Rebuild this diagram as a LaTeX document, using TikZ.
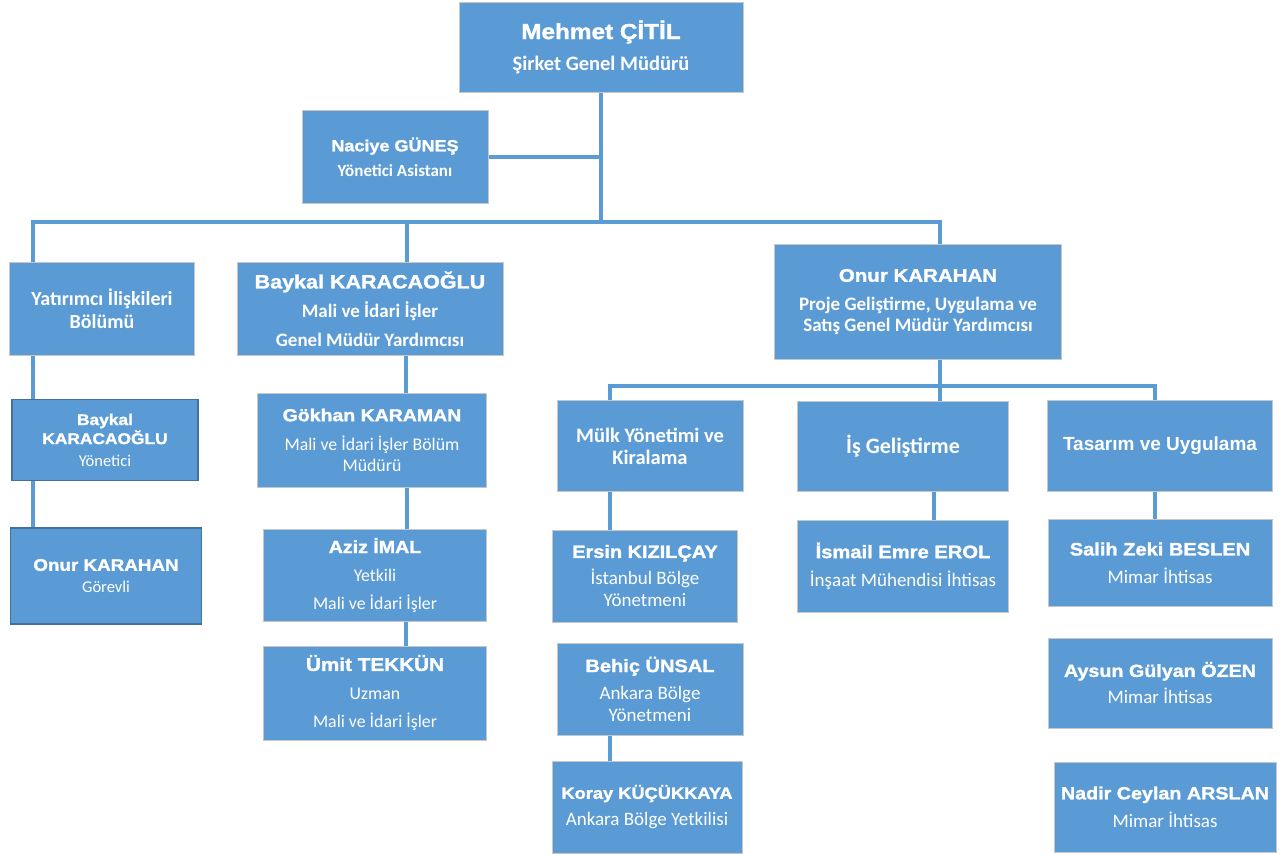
\documentclass[tikz,border=0pt]{standalone}
\usepackage{fontspec}
\setmainfont{Carlito}
\newfontfamily\namefont{Liberation Sans}[FakeStretch=1.12,FakeBold=1.5]
\newfontfamily\deptfont{Liberation Sans}
\usetikzlibrary{positioning}
\definecolor{boxblue}{HTML}{5B9BD5}
\definecolor{edgeblue}{HTML}{41719C}
\definecolor{linkblue}{HTML}{5B9BD5}
\newcommand{\unitfont}{\fontsize{17}{22}\selectfont\lineskiplimit=-50pt\relax}
\newcommand{\pname}[2]{{\namefont\bfseries\fontsize{#1}{22}\selectfont #2}}
\newcommand{\ptitle}[2]{{\bfseries\fontsize{#1}{22}\selectfont #2}}
\newcommand{\pline}[2]{{\fontsize{#1}{22}\selectfont #2}}

\begin{document}
\begin{tikzpicture}[x=1pt,y=-1pt]
\tikzstyle{unit}=[rectangle, inner sep=0pt, fill=boxblue, draw=black!22, line width=1pt, text=white, align=center, font=\unitfont]
\tikzstyle{unit2}=[unit, draw=edgeblue, line width=1.5pt]
\tikzstyle{link}=[draw=linkblue, line width=4pt]

\fill[white] (0,0) rectangle (1284,854);
\useasboundingbox (0,0) rectangle (1284,854);

% top
	\node[unit] (ceo) at (601,47) [minimum width=284pt, minimum height=90pt]{\pname{21.7}{Mehmet ÇİTİL}\\[9pt]\ptitle{20.5}{Şirket Genel Müdürü}};
	\node[unit] (asst) at (395,157) [minimum width=186pt, minimum height=93pt]{\pname{16.1}{Naciye GÜNEŞ}\\[3pt]\ptitle{17}{Yönetici Asistanı}};

% second level
	\node[unit] (yat) at (102,309) [minimum width=185pt, minimum height=93pt]{\ptitle{20}{Yatırımcı İlişkileri}\\[1pt]\ptitle{20}{Bölümü}};
	\node[unit] (mali) at (370,309) [minimum width=266pt, minimum height=93pt]{\pname{19.2}{Baykal KARACAOĞLU}\\[7pt]\ptitle{19}{Mali ve İdari İşler}\\[7pt]\ptitle{19}{Genel Müdür Yardımcısı}};
	\node[unit] (proje) at (918,302) [minimum width=287pt, minimum height=115pt]{\pname{18.3}{Onur KARAHAN}\\[7pt]\ptitle{19}{Proje Geliştirme, Uygulama ve}\\[-1pt]\ptitle{19}{Satış Genel Müdür Yardımcısı}};

% investor relations
	\node[unit2] (yon) at (105,440) [minimum width=186pt, minimum height=81pt]{\pname{15.5}{Baykal}\\[-3pt]\pname{15.5}{KARACAOĞLU}\\\pline{16.5}{Yönetici}};
	\node[unit2] (gor) at (106,576) [minimum width=191pt, minimum height=96pt]{\pname{16.8}{Onur KARAHAN}\\\pline{16.5}{Görevli}};

% finance
	\node[unit] (gokhan) at (372,440) [minimum width=229pt, minimum height=94pt]{\pname{17.4}{Gökhan KARAMAN}\\[7pt]\pline{17.8}{Mali ve İdari İşler Bölüm}\\[-1pt]\pline{17.8}{Müdürü}};
	\node[unit] (aziz) at (375,575) [minimum width=223pt, minimum height=92pt]{\pname{17.5}{Aziz İMAL}\\[6pt]\pline{17.8}{Yetkili}\\[6pt]\pline{17.8}{Mali ve İdari İşler}};
	\node[unit] (umit) at (375,693) [minimum width=223pt, minimum height=94pt]{\pname{18.5}{Ümit TEKKÜN}\\[7pt]\pline{17.8}{Uzman}\\[6pt]\pline{17.8}{Mali ve İdari İşler}};

% departments
	\node[unit] (mulk) at (650,446) [minimum width=186pt, minimum height=91pt]{\ptitle{20.5}{Mülk Yönetimi ve}\\\ptitle{20.5}{Kiralama}};
	\node[unit] (isg) at (903,446) [minimum width=211pt, minimum height=90pt]{\ptitle{22}{İş Geliştirme}};
	\node[unit] (tas) at (1160,446) [minimum width=225pt, minimum height=91pt]{{\deptfont\bfseries\fontsize{19}{22}\selectfont Tasarım ve Uygulama}};

% staff
	\node[unit] (ersin) at (645,576) [minimum width=185pt, minimum height=92pt]{\pname{17.8}{Ersin KIZILÇAY}\\[5pt]\pline{19}{İstanbul Bölge}\\\pline{19}{Yönetmeni}};
	\node[unit] (behic) at (650,689) [minimum width=186pt, minimum height=92pt]{\pname{17.9}{Behiç ÜNSAL}\\[5pt]\pline{19}{Ankara Bölge}\\\pline{19}{Yönetmeni}};
	\node[unit] (koray) at (647,807) [minimum width=190pt, minimum height=92pt]{\pname{16.3}{Koray KÜÇÜKKAYA}\\[5pt]\pline{19}{Ankara Bölge Yetkilisi}};
	\node[unit] (ismail) at (903,566) [minimum width=211pt, minimum height=92pt]{\pname{18}{İsmail Emre EROL}\\[6pt]\pline{19}{İnşaat Mühendisi İhtisas}};
	\node[unit] (salih) at (1160,563) [minimum width=224pt, minimum height=87pt]{\pname{17.9}{Salih Zeki BESLEN}\\[6pt]\pline{19}{Mimar İhtisas}};
	\node[unit] (aysun) at (1160,683) [minimum width=224pt, minimum height=90pt]{\pname{17.6}{Aysun Gülyan ÖZEN}\\[5pt]\pline{19}{Mimar İhtisas}};
	\node[unit] (nadir) at (1165,807) [minimum width=222pt, minimum height=90pt]{\pname{17.6}{Nadir Ceylan ARSLAN}\\[6pt]\pline{19}{Mimar İhtisas}};

	\coordinate (hub) at (601,222);
	\coordinate (hub2) at (940,386);

	\draw[link] (ceo.south) -- (hub);
	\draw[link] (asst.east) -- (asst.east -| ceo.south);
	\draw[link] (hub) -| ([xshift=-69pt]yat.north);
	\draw[link] (hub) -| ([xshift=37pt]mali.north);
	\draw[link] (hub) -| ([xshift=22pt]proje.north);
	\draw[link] ([xshift=22pt]proje.south) -- (hub2);
	\draw[link] (hub2) -| ([xshift=-40pt]mulk.north);
	\draw[link] (hub2) -| ([xshift=-5pt]tas.north);

	\path [link]
		(hub2) edge [] ([xshift=37pt]isg.north)
		([xshift=-69pt]yat.south) edge [] ([xshift=-72pt]yon.north)
		([xshift=-72pt]yon.south) edge [] ([xshift=-73pt]gor.north)
		([xshift=36pt]mali.south) edge [] ([xshift=34pt]gokhan.north)
		([xshift=35pt]gokhan.south) edge [] ([xshift=32pt]aziz.north)
		([xshift=31pt]aziz.south) edge [] ([xshift=31pt]umit.north)
		([xshift=-40pt]mulk.south) edge [] ([xshift=-35pt]ersin.north)
		([xshift=-40pt]behic.south) edge [] ([xshift=-37pt]koray.north)
		([xshift=31pt]isg.south) edge [] ([xshift=31pt]ismail.north)
		([xshift=-5pt]tas.south) edge [] ([xshift=-5pt]salih.north);

\end{tikzpicture}
\end{document}
